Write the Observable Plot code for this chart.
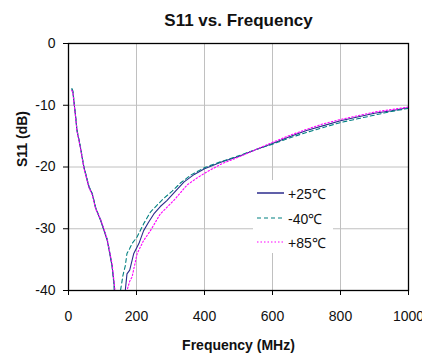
<!DOCTYPE html>
<html>
<head>
<meta charset="utf-8">
<script src="https://cdn.jsdelivr.net/npm/d3@7"></script>
<script src="https://cdn.jsdelivr.net/npm/@observablehq/plot@0.6"></script>
<style>
  html, body { margin: 0; padding: 0; background: white; overflow: hidden; }
  #wrap { position: relative; width: 422px; height: 354px; font-family: "Liberation Sans", Arial, sans-serif; }
  #legend { position: absolute; left: 253px; top: 180px; width: 80px; height: 73px; background: white; }
  .item { position: absolute; left: 4px; height: 16px; display: flex; align-items: center; font-size: 14px; color: #111; }
  .item svg { margin-right: 4px; }
</style>
</head>
<body>
<div id="wrap"></div>
<script>
// Tick values
const xTicks = [0, 200, 400, 600, 800, 1000];
const yTicks = [0, -10, -20, -30, -40];
const seriesNames = ["+25℃", "-40℃", "+85℃"];
const seriesColors = ["#2b2b8c", "#008080", "#ff00ff"];
const seriesDash = ["none", "4,3", "1.5,2"];

// +25 °C
const f25 = [10, 13, 20, 25, 35, 45, 60, 70, 80, 94, 104, 114, 128, 135, 152, 167, 172, 180, 192, 207, 221, 235, 251, 270, 290, 310, 340, 370, 400, 450, 500, 550, 600, 650, 700, 750, 800, 850, 900, 950, 1000];
const s25 = [-7.5, -7.9, -11.4, -14.1, -16.8, -20.0, -23.2, -24.4, -26.7, -28.6, -30.2, -31.9, -36.0, -39.4, -60, -40, -37.3, -36.7, -34.0, -32.4, -30.3, -29.0, -27.6, -26.4, -25.4, -24.2, -22.4, -21.2, -20.3, -19.2, -18.3, -17.2, -16.2, -15.1, -14.1, -13.3, -12.5, -11.9, -11.3, -10.9, -10.4];

// -40 °C
const fm40 = [10, 13, 20, 25, 35, 45, 60, 70, 80, 94, 104, 114, 128, 134, 145, 153, 160, 167, 172, 180, 187, 202, 221, 241, 260, 280, 305, 329, 360, 400, 450, 500, 550, 600, 650, 700, 750, 800, 850, 900, 950, 1000];
const sm40 = [-7.3, -7.7, -11.3, -14.0, -16.7, -19.9, -23.1, -24.3, -26.6, -28.5, -30.1, -31.7, -35.8, -39.3, -60, -40, -37.6, -36.0, -34.0, -33.2, -32.4, -31.3, -29.2, -27.3, -26.2, -25.1, -23.9, -22.6, -21.3, -20.1, -19.1, -18.2, -17.2, -16.3, -15.3, -14.4, -13.6, -12.8, -12.2, -11.6, -11.0, -10.5];

// +85 °C
const f85 = [10, 13, 20, 25, 35, 45, 60, 70, 80, 94, 104, 114, 128, 136, 156, 172, 180, 187, 202, 221, 241, 270, 310, 349, 380, 410, 450, 500, 550, 600, 650, 700, 750, 800, 850, 900, 950, 1000];
const s85 = [-7.6, -8.0, -11.5, -14.2, -16.9, -20.1, -23.3, -24.5, -26.8, -28.4, -30.0, -31.8, -35.6, -39.6, -60, -40, -38.5, -37.8, -34.0, -31.9, -30.3, -27.6, -25.4, -22.9, -21.7, -20.7, -19.5, -18.4, -17.2, -16.0, -14.9, -13.9, -13.0, -12.3, -11.7, -11.1, -10.7, -10.3];

const toRows = (fs, ss, name) => fs.map((f, i) => ({f, s: ss[i], name}));
const rows25 = toRows(f25, s25, seriesNames[0]);
const rowsM40 = toRows(fm40, sm40, seriesNames[1]);
const rows85 = toRows(f85, s85, seriesNames[2]);

const fmt = d => String(d);
const font = "'Liberation Sans', Arial, sans-serif";

const chart = Plot.plot({
  width: 422,
  height: 354,
  marginLeft: 68,
  marginRight: 14,
  marginTop: 43,
  marginBottom: 64,
  style: {fontFamily: font, fontSize: "14px", color: "#111", background: "white"},
  x: {domain: [0, 1000]},
  y: {domain: [-40, 0]},
  marks: [
    Plot.gridX({ticks: xTicks.slice(1, -1), stroke: "#c0c0c0", strokeOpacity: 1}),
    Plot.gridY({ticks: yTicks.slice(1, -1), stroke: "#c0c0c0", strokeOpacity: 1}),
    Plot.line(rows25, {x: "f", y: "s", stroke: seriesColors[0], strokeWidth: 1.1, clip: true}),
    Plot.line(rowsM40, {x: "f", y: "s", stroke: seriesColors[1], strokeWidth: 1.1, strokeDasharray: seriesDash[1], clip: true}),
    Plot.line(rows85, {x: "f", y: "s", stroke: seriesColors[2], strokeWidth: 1.1, strokeDasharray: seriesDash[2], clip: true}),
    Plot.frame({stroke: "black", strokeWidth: 1.3}),
    Plot.axisX({ticks: xTicks, tickSize: 5, tickPadding: 16, tickFormat: fmt, label: null, stroke: "black"}),
    Plot.axisY({ticks: yTicks, tickSize: 5, tickPadding: 8, tickFormat: fmt, label: null, stroke: "black"}),
    Plot.text(["S11 vs. Frequency"], {frameAnchor: "top", dy: -23, lineAnchor: "middle", fontWeight: "bold", fontSize: 17}),
    Plot.text(["Frequency (MHz)"], {frameAnchor: "bottom", dy: 55, lineAnchor: "middle", fontWeight: "bold", fontSize: 14}),
    Plot.text(["S11 (dB)"], {frameAnchor: "left", dx: -46, rotate: -90, lineAnchor: "middle", fontWeight: "bold", fontSize: 14})
  ]
});

const wrap = document.getElementById("wrap");
wrap.appendChild(chart);

// Legend overlay
const legend = document.createElement("div");
legend.id = "legend";
const tops = [5, 30, 54];
seriesNames.forEach((name, i) => {
  const item = document.createElement("div");
  item.className = "item";
  item.style.top = tops[i] + "px";
  const dash = seriesDash[i] === "none" ? "" : `stroke-dasharray="${seriesDash[i]}"`;
  item.innerHTML = `<svg width="27" height="4"><line x1="0" y1="2" x2="27" y2="2" stroke="${seriesColors[i]}" stroke-width="${i === 0 ? 1.5 : 1.1}" ${dash}/></svg><span>${name}</span>`;
  legend.appendChild(item);
});
wrap.appendChild(legend);
</script>
</body>
</html>
